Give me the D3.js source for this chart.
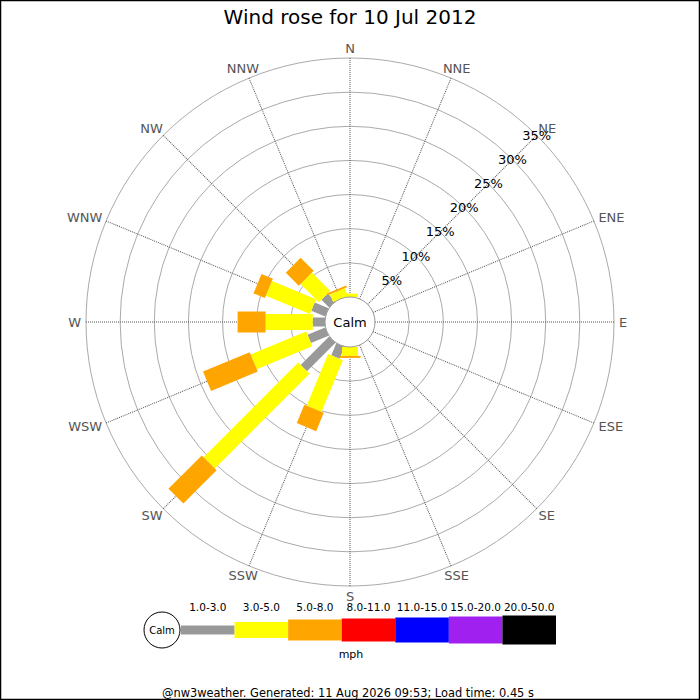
<!DOCTYPE html>
<html>
<head>
<meta charset="utf-8">
<script src="https://cdn.jsdelivr.net/npm/d3@7"></script>
<style>
  body { margin: 0; background: #fff; }
  svg { display: block; font-family: "DejaVu Sans", sans-serif; }
</style>
</head>
<body>
<div id="chart"></div>
<script>
// compass points, clockwise from north
const directions = ["N", "NNE", "NE", "ENE", "E", "ESE", "SE", "SSE",
                    "S", "SSW", "SW", "WSW", "W", "WNW", "NW", "NNW"]

// speed classes (mph) and their colours
const speedClasses = ["1.0-3.0", "3.0-5.0", "5.0-8.0", "8.0-11.0", "11.0-15.0", "15.0-20.0", "20.0-50.0"]
const classColors = ["#999999", "#ffff00", "#ffa500", "#ff0000", "#0000ff", "#a020f0", "#000000"]

// percent of time per direction, one array per speed class
const pct1to3   = [0,   0, 0, 0, 0, 0, 0, 0, 0,   1.9, 5.9,  2.8, 1.8, 2.2, 1.6, 0]
const pct3to5   = [0.5, 0, 0, 0, 0, 0, 0, 0, 1.3, 8.2, 19.6, 8.8, 6.9, 7.0, 3.8, 1.2]
const pct5to8   = [0,   0, 0, 0, 0, 0, 0, 0, 0.3, 2.9, 6.9,  7.4, 4.1, 1.8, 2.7, 0.3]
const pct8to11  = new Array(16).fill(0)
const pct11to15 = new Array(16).fill(0)
const pct15to20 = new Array(16).fill(0)
const pct20to50 = new Array(16).fill(0)

// ring ticks
const ringTicks = [5, 10, 15, 20, 25, 30, 35]

const W = 700, H = 700
const cx = 350, cy = 322
const calmR = 25
const barWidths = [9, 16, 21, 23, 25, 27, 29]

const svg = d3.select("#chart").append("svg")
    .attr("width", W)
    .attr("height", H)

svg.append("rect")
    .attr("x", 0.5).attr("y", 0.5)
    .attr("width", W - 1).attr("height", H - 1)
    .attr("fill", "#fff")
    .attr("stroke", "#000")
    .attr("stroke-width", 1.5)

// title
svg.append("text")
    .attr("x", W / 2)
    .attr("y", 24)
    .attr("text-anchor", "middle")
    .attr("font-size", 20)
    .attr("fill", "#000")
    .text("Wind rose for 10 Jul 2012")

const r = d3.scaleLinear()
    .domain([0, 35])
    .range([calmR, 264])

const angle = d3.scaleLinear()
    .domain([0, directions.length])
    .range([0, 360])

const plot = svg.append("g")
    .attr("transform", `translate(${cx},${cy})`)

// rings
plot.append("g").selectAll("circle")
    .data(ringTicks)
    .enter().append("circle")
    .attr("r", d => r(d))
    .attr("fill", "none")
    .attr("stroke", "#aaaaaa")
    .attr("stroke-width", 1)

// spokes
plot.append("g").selectAll("line")
    .data(directions)
    .enter().append("line")
    .attr("transform", (d, i) => `rotate(${angle(i)})`)
    .attr("x1", 0).attr("y1", -r(0))
    .attr("x2", 0).attr("y2", -r(35))
    .attr("stroke", "#555")
    .attr("stroke-width", 1)
    .attr("stroke-dasharray", "1,1")

// direction labels
const rad = deg => deg * Math.PI / 180
plot.append("g").selectAll("text")
    .data(directions)
    .enter().append("text")
    .attr("font-size", 13)
    .attr("fill", "#555")
    .attr("text-anchor", "middle")
    .attr("dominant-baseline", "central")
    .text(d => d)
    .each(function (d, i) {
        const a = rad(angle(i))
        const w = this.getComputedTextLength()
        const rx = r(35) + 5 + (w / 2) * Math.abs(Math.sin(a)) + 5 * Math.abs(Math.cos(a))
        d3.select(this)
            .attr("x", rx * Math.sin(a))
            .attr("y", -(r(35) + 10) * Math.cos(a))
    })

// stacked bars
const series = [pct1to3, pct3to5, pct5to8, pct8to11, pct11to15, pct15to20, pct20to50]
const rows = directions.map((d, i) => {
    const row = { dir: d, idx: i }
    speedClasses.forEach((s, k) => { row[s] = series[k][i] })
    return row
})
const stacked = d3.stack().keys(speedClasses)(rows)

const bars = plot.append("g").selectAll("g")
    .data(stacked)
    .enter().append("g")
    .attr("fill", (d, k) => classColors[k])

bars.each(function (layer, k) {
    d3.select(this).selectAll("rect")
        .data(layer.filter(d => d[1] - d[0] > 0))
        .enter().append("rect")
        .attr("transform", d => `rotate(${angle(d.data.idx)})`)
        .attr("x", -barWidths[k] / 2)
        .attr("y", d => -r(d[1]))
        .attr("width", barWidths[k])
        .attr("height", d => r(d[1]) - r(d[0]))
})

// ring labels along NE
plot.append("g").selectAll("text")
    .data(ringTicks)
    .enter().append("text")
    .attr("x", d => r(d) * Math.sin(rad(45)))
    .attr("y", d => -r(d) * Math.cos(rad(45)))
    .attr("text-anchor", "middle")
    .attr("dominant-baseline", "central")
    .attr("font-size", 13)
    .attr("fill", "#000")
    .text(d => d + "%")

// calm circle
plot.append("circle")
    .attr("r", calmR)
    .attr("fill", "#fff")
    .attr("stroke", "#999")
plot.append("text")
    .attr("text-anchor", "middle")
    .attr("dominant-baseline", "central")
    .attr("font-size", 13)
    .text("Calm")

// legend
const legendY = 630
const lx = d3.scaleLinear()
    .domain([0, speedClasses.length])
    .range([181, 556])
const legend = svg.append("g")

legend.selectAll("rect")
    .data(speedClasses)
    .enter().append("rect")
    .attr("x", (d, i) => lx(i))
    .attr("y", (d, i) => legendY - barWidths[i] / 2)
    .attr("width", (d, i) => lx(i + 1) - lx(i))
    .attr("height", (d, i) => barWidths[i])
    .attr("fill", (d, i) => classColors[i])

legend.selectAll("text.cls")
    .data(speedClasses)
    .enter().append("text")
    .attr("class", "cls")
    .attr("x", (d, i) => (lx(i) + lx(i + 1)) / 2)
    .attr("y", 611)
    .attr("text-anchor", "middle")
    .attr("font-size", 10.5)
    .text(d => d)

legend.append("circle")
    .attr("cx", 162).attr("cy", legendY)
    .attr("r", 18)
    .attr("fill", "#fff")
    .attr("stroke", "#000")
legend.append("text")
    .attr("x", 162).attr("y", legendY)
    .attr("text-anchor", "middle")
    .attr("dominant-baseline", "central")
    .attr("font-size", 10)
    .text("Calm")

legend.append("text")
    .attr("x", 351).attr("y", 658)
    .attr("text-anchor", "middle")
    .attr("font-size", 11)
    .text("mph")

// footer
svg.append("text")
    .attr("x", 348).attr("y", 697)
    .attr("text-anchor", "middle")
    .attr("font-size", 11.4)
    .text("@nw3weather. Generated: 11 Aug 2026 09:53; Load time: 0.45 s")
</script>
</body>
</html>
